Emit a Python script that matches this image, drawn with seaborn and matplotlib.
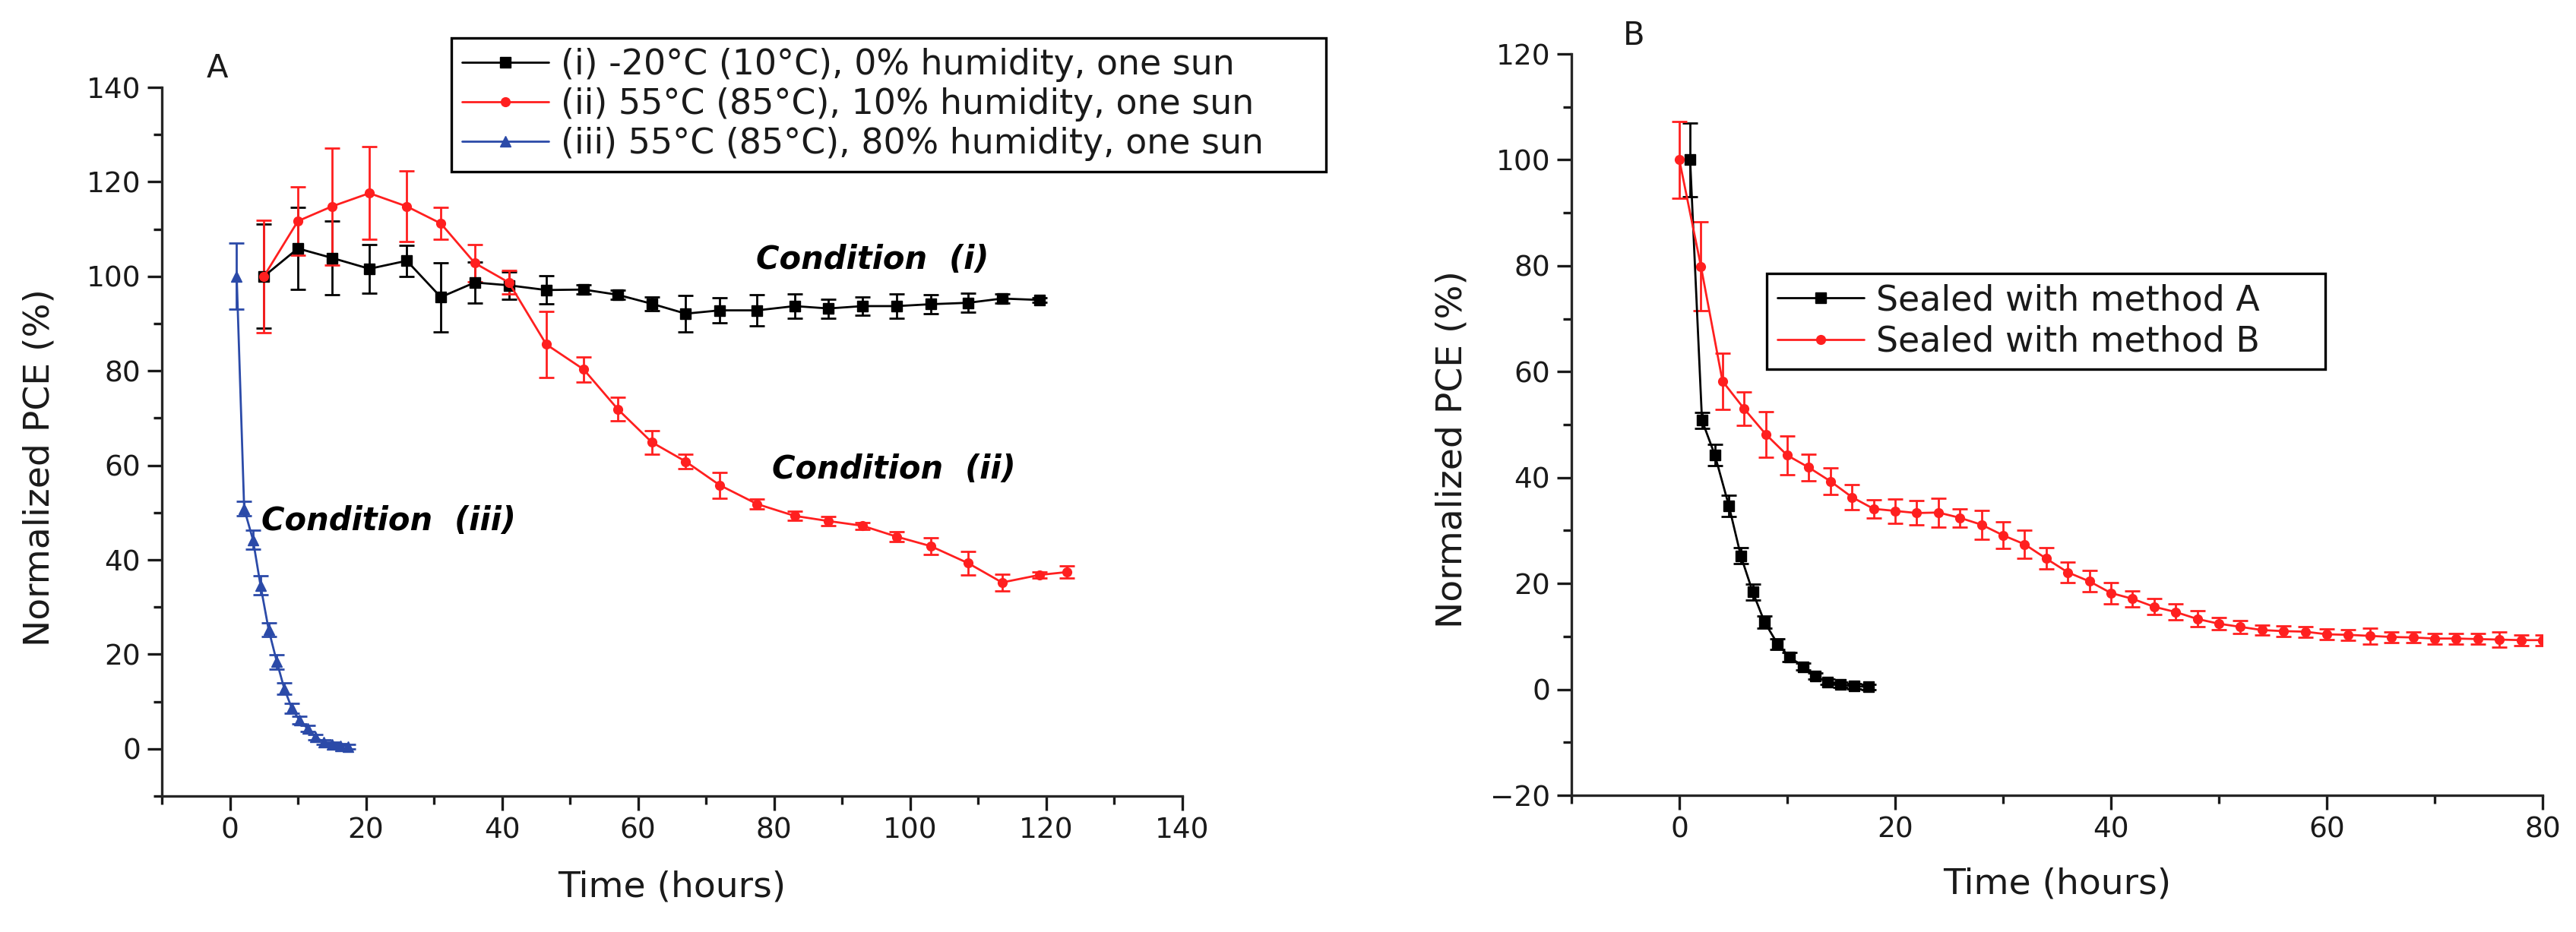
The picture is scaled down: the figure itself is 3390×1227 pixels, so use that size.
import matplotlib
matplotlib.use("Agg")
import matplotlib.pyplot as plt
from matplotlib.ticker import MultipleLocator
import seaborn as sns

# ---- panel A data: normalized PCE (%) vs time (hours)
lab_i = "(i) -20°C (10°C), 0% humidity, one sun"
t_i = [5, 10, 15, 20.5, 26, 31, 36, 41, 46.5, 52, 57, 62, 67, 72, 77.5, 83, 88, 93, 98, 103, 108.5, 113.5, 119]
pce_i = [100, 105.9, 103.9, 101.6, 103.3, 95.6, 98.7, 98.1, 97.1, 97.2, 96.1, 94.2, 92.1, 92.8, 92.8,
         93.7, 93.2, 93.7, 93.7, 94.1, 94.4, 95.3, 95.0]
err_i = [11, 8.7, 7.8, 5.1, 3.3, 7.3, 4.3, 2.9, 3.0, 1.0, 1.0, 1.5, 3.9, 2.7, 3.3, 2.5, 2.0, 2.0, 2.5,
         2.0, 2.0, 1.0, 0.5]

lab_ii = "(ii) 55°C (85°C), 10% humidity, one sun"
t_ii = [5, 10, 15, 20.5, 26, 31, 36, 41, 46.5, 52, 57, 62, 67, 72, 77.5, 83, 88, 93, 98, 103, 108.5, 113.5, 119, 123]
pce_ii = [100, 111.7, 114.8, 117.6, 114.8, 111.2, 102.8, 98.7, 85.6, 80.3, 71.9, 64.9, 60.8, 55.8, 51.8,
          49.3, 48.2, 47.2, 44.9, 42.9, 39.3, 35.2, 36.8, 37.4]
err_ii = [11.9, 7.2, 12.4, 9.8, 7.5, 3.4, 4.0, 2.5, 7.0, 2.7, 2.5, 2.5, 1.5, 2.7, 1.0, 1.0, 1.0, 0.7,
          1.0, 1.8, 2.5, 1.8, 0.7, 1.3]

lab_iii = "(iii) 55°C (85°C), 80% humidity, one sun"
t_iii = [1, 2.1, 3.4, 4.5, 5.7, 6.9, 8.0, 9.1, 10.2, 11.4, 12.6, 13.8, 15.0, 16.2, 17.4]
pce_iii = [100, 50.8, 44.2, 34.6, 25.2, 18.4, 12.7, 8.6, 6.1, 4.3, 2.5, 1.4, 0.9, 0.6, 0.5]
err_iii = [7, 1.5, 2, 2, 1.5, 1.5, 1.2, 1, 0.8, 0.7, 0.6, 0.5, 0.5, 0.5, 0.5]

# ---- panel B data
lab_A = "Sealed with method A"
t_A = [1.0, 2.1, 3.3, 4.6, 5.7, 6.8, 7.9, 9.1, 10.2, 11.5, 12.6, 13.7, 14.9, 16.2, 17.5]
pce_A = [100, 50.8, 44.2, 34.6, 25.2, 18.4, 12.7, 8.6, 6.1, 4.3, 2.5, 1.4, 0.9, 0.6, 0.5]
err_A = [7, 1.5, 2, 2, 1.5, 1.5, 1.2, 1, 0.8, 0.7, 0.6, 0.5, 0.5, 0.5, 0.5]

lab_B = "Sealed with method B"
t_B = [0, 2, 4, 6, 8, 10, 12, 14, 16, 18, 20, 22, 24, 26, 28, 30, 32, 34, 36, 38, 40,
       42, 44, 46, 48, 50, 52, 54, 56, 58, 60, 62, 64, 66, 68, 70, 72, 74, 76, 78, 80]
pce_B = [100, 79.9, 58.2, 53.0, 48.2, 44.2, 41.9, 39.3, 36.3, 34.1, 33.7, 33.3, 33.4, 32.4, 31.1,
         29.1, 27.4, 24.7, 22.1, 20.4, 18.2, 17.1, 15.6, 14.6, 13.3, 12.4, 11.8, 11.2, 11.0, 10.9,
         10.4, 10.3, 10.1, 9.9, 9.8, 9.6, 9.6, 9.5, 9.4, 9.3, 9.3]
err_B = [7.3, 8.4, 5.3, 3.2, 4.3, 3.6, 2.5, 2.5, 2.3, 1.7, 2.3, 2.3, 2.7, 1.7, 2.7, 2.5, 2.6, 2.0,
         2.0, 2.0, 2.0, 1.5, 1.5, 1.5, 1.5, 1.2, 1.2, 1.0, 1.0, 1.0, 1.0, 1.0, 1.5, 1.0, 1.0, 1.0,
         1.0, 1.0, 1.5, 1.0, 1.0]

RED = "#ff1f1f"
BLUE = "#2b4aa8"
INK = "#1a1a1a"

sns.set_theme(style="ticks")
plt.rcParams["font.family"] = ["DejaVu Sans"]
plt.rcParams["axes.linewidth"] = 2.4
plt.rcParams["text.color"] = INK

W, H = 3390, 1227
fig = plt.figure(figsize=(W / 100, H / 100), dpi=100)
fig.patch.set_facecolor("white")


def box(x0, y0, x1, y1):
    # pixel box (top-left origin) -> figure fraction rect
    return [x0 / W, 1 - y1 / H, (x1 - x0) / W, (y1 - y0) / H]


axA = fig.add_axes(box(213, 115, 1556, 1048))
axB = fig.add_axes(box(2068, 71, 3346, 1047))


def series(ax, t, y, e, color, marker, ms, label):
    ax.errorbar(t, y, yerr=e, fmt="none", ecolor=color, elinewidth=2.0, capsize=7, capthick=2.0, zorder=2)
    sns.lineplot(x=t, y=y, ax=ax, color=color, marker=marker, markersize=ms, markeredgecolor=color,
                 markeredgewidth=1.0, linewidth=2.0, label=label, errorbar=None, sort=False, zorder=3)


series(axA, t_i, pce_i, err_i, "black", "s", 10, lab_i)
series(axA, t_ii, pce_ii, err_ii, RED, "o", 8.5, lab_ii)
series(axA, t_iii, pce_iii, err_iii, BLUE, "^", 10, lab_iii)

series(axB, t_A, pce_A, err_A, "black", "s", 10, lab_A)
series(axB, t_B, pce_B, err_B, RED, "o", 8.5, lab_B)

for ax in (axA, axB):
    sns.despine(ax=ax)
    ax.set_facecolor("white")
    ax.tick_params(which="major", direction="out", length=14, width=2.4, labelsize=27,
                   colors=INK, pad=6)
    ax.tick_params(which="minor", direction="out", length=8, width=2.4, colors=INK)
    ax.xaxis.set_minor_locator(MultipleLocator(10))
    ax.yaxis.set_minor_locator(MultipleLocator(10))
    ax.set_xlabel("Time (hours)", fontsize=34, color=INK)
    ax.set_ylabel("Normalized PCE (%)", fontsize=34, color=INK)

axA.set_xlim(-10, 140)
axA.set_ylim(-10, 140)
axA.set_xticks([0, 20, 40, 60, 80, 100, 120, 140])
axA.set_yticks([0, 20, 40, 60, 80, 100, 120, 140])
axA.xaxis.set_label_coords(0.5, -0.105)
axA.yaxis.set_label_coords(-0.103, 0.463)

axB.set_xlim(-10, 80)
axB.set_ylim(-20, 120)
axB.set_xticks([0, 20, 40, 60, 80])
axB.set_yticks([-20, 0, 20, 40, 60, 80, 100, 120])
axB.xaxis.set_label_coords(0.5, -0.097)
axB.yaxis.set_label_coords(-0.105, 0.467)

legA = axA.legend(loc="upper left", bbox_to_anchor=(594 / W, 1 - 62 / H, 1151 / W, 0.01),
                  bbox_transform=fig.transFigure, mode="expand", borderaxespad=0, fontsize=33,
                  frameon=True, fancybox=False, edgecolor="black", framealpha=1,
                  handlelength=2.5, handletextpad=0.35, labelspacing=0.15, borderpad=0.3)
legA.get_frame().set_linewidth(2.4)

legB = axB.legend(loc="upper left", bbox_to_anchor=(2325 / W, 1 - 372 / H, 735 / W, 0.01),
                  bbox_transform=fig.transFigure, mode="expand", borderaxespad=0, fontsize=33,
                  frameon=True, fancybox=False, edgecolor="black", framealpha=1,
                  handlelength=2.5, handletextpad=0.35, labelspacing=0.2, borderpad=0.3)
legB.get_frame().set_linewidth(2.4)

note = dict(fontsize=30, fontweight="bold", fontstyle="italic", color="black", va="center", ha="left")
axA.text(77.3, 103.5, "Condition  (i)", **note)
axA.text(79.7, 59.2, "Condition  (ii)", **note)
axA.text(4.6, 48.2, "Condition  (iii)", **note)

fig.text(286 / W, 1 - 90 / H, "A", fontsize=30, ha="center", va="center")
fig.text(2150 / W, 1 - 47 / H, "B", fontsize=30, ha="center", va="center")

fig.savefig("out.png", dpi=100, facecolor="white")
